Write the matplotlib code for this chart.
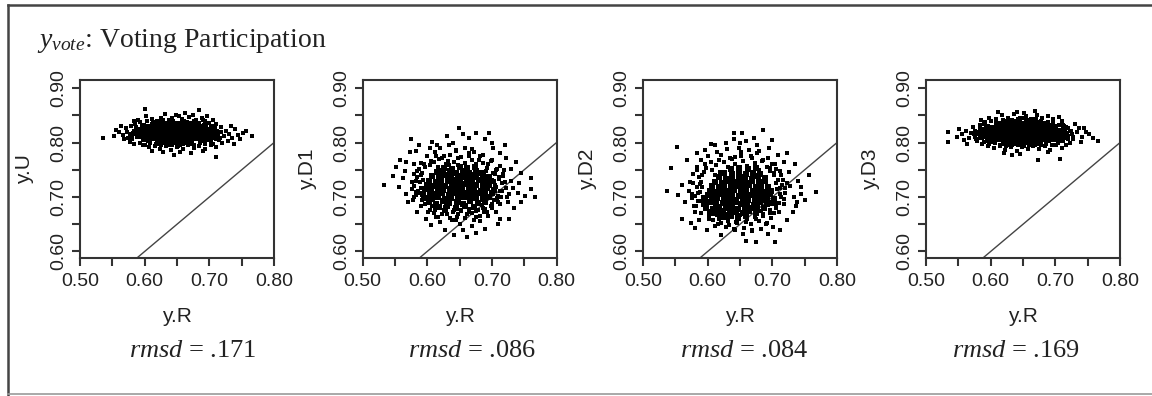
import matplotlib
matplotlib.use("Agg")
import matplotlib.pyplot as plt
from matplotlib.lines import Line2D
from matplotlib.ticker import MultipleLocator
import numpy as np

# Points, in thousandths: (y.R, y.panel).
# "core" = the solid dark middle of each cloud, "spread" = the loose points around it.
u_core = [
    (620, 799), (628, 802), (636, 798), (645, 801), (653, 797), (661, 802), (670, 799),
    (599, 806), (607, 804), (615, 808), (623, 805), (631, 807), (640, 805), (648, 808), (656, 804),
    (664, 807), (672, 805), (681, 808), (689, 805), (697, 807),
    (590, 812), (598, 814), (606, 811), (614, 813), (622, 810), (630, 813), (638, 811), (646, 814),
    (654, 811), (662, 813), (670, 810), (678, 813), (686, 811), (694, 814), (703, 811),
    (586, 818), (594, 816), (602, 819), (610, 817), (618, 820), (626, 817), (634, 819), (642, 816),
    (650, 819), (658, 817), (666, 820), (674, 817), (682, 819), (690, 816), (698, 819), (706, 817),
    (589, 824), (597, 822), (605, 825), (613, 823), (621, 826), (629, 823), (637, 825), (645, 822),
    (653, 825), (661, 823), (669, 826), (677, 823), (685, 825), (693, 822), (701, 824),
    (598, 830), (606, 828), (614, 831), (622, 829), (630, 832), (638, 829), (646, 831), (654, 828),
    (662, 831), (670, 829), (678, 832), (686, 829), (694, 831),
    (615, 836), (624, 838), (633, 835), (642, 837), (651, 835), (660, 838), (669, 835), (678, 837),
]
u_spread = [
    (602, 848), (612, 843), (625, 846), (637, 842), (648, 851), (657, 844), (668, 847), (679, 842),
    (688, 845), (697, 849), (706, 841), (590, 841), (583, 839), (631, 853), (662, 855), (675, 850),
    (619, 839), (642, 845), (694, 840), (600, 861), (684, 859), (653, 848),
    (598, 795), (607, 791), (616, 794), (624, 788), (633, 793), (641, 786), (650, 792), (659, 789),
    (667, 795), (676, 790), (684, 794), (693, 788), (703, 796), (711, 791), (612, 785), (629, 782),
    (655, 783), (672, 781), (690, 784), (710, 774), (584, 797), (646, 778), (638, 795),
    (535, 808), (553, 812), (560, 820), (566, 814), (571, 826), (575, 808), (579, 830), (582, 818),
    (568, 806), (556, 824), (577, 801), (585, 834), (563, 831), (572, 819),
    (708, 826), (713, 818), (718, 829), (722, 812), (726, 822), (731, 816), (735, 808), (740, 825),
    (744, 814), (752, 818), (766, 812), (715, 805), (710, 834), (729, 803), (738, 797), (748, 807),
    (720, 799), (733, 831), (757, 822), (703, 802),
    (593, 799), (601, 796), (609, 800), (617, 797), (626, 795), (634, 799), (643, 796), (651, 794),
    (660, 797), (668, 800), (677, 796), (685, 799), (694, 797), (702, 800), (710, 806), (705, 798),
    (593, 838), (603, 840), (611, 835), (628, 841), (639, 839), (657, 841), (666, 838), (684, 836),
    (690, 842), (699, 836), (703, 831), (580, 811), (583, 822), (578, 815), (587, 828), (581, 806),
    (710, 812), (712, 822), (714, 816), (709, 829), (718, 820), (704, 830), (716, 808),
]

d1_core = [
    (618, 681), (631, 684), (645, 680), (658, 683), (672, 681),
    (603, 690), (613, 688), (624, 692), (634, 689), (646, 691), (656, 688), (667, 692), (678, 689),
    (690, 691),
    (598, 698), (608, 696), (617, 700), (627, 697), (637, 699), (648, 696), (657, 700), (666, 697),
    (676, 699), (686, 697), (696, 700),
    (594, 706), (604, 708), (614, 705), (623, 707), (633, 704), (643, 708), (652, 705), (661, 707),
    (671, 704), (680, 708), (690, 705), (700, 707),
    (596, 714), (606, 712), (616, 716), (625, 713), (635, 715), (645, 712), (654, 716), (664, 713),
    (673, 715), (683, 712), (693, 716), (703, 713),
    (599, 722), (609, 720), (619, 724), (628, 721), (638, 723), (648, 720), (657, 724), (667, 721),
    (676, 723), (686, 720), (696, 723),
    (603, 730), (613, 728), (622, 732), (632, 729), (642, 731), (651, 728), (661, 732), (670, 729),
    (680, 731), (690, 728), (699, 730),
    (608, 738), (618, 736), (628, 740), (637, 737), (647, 739), (657, 736), (666, 740), (676, 737),
    (686, 739), (695, 736),
    (615, 746), (625, 744), (635, 748), (645, 745), (655, 747), (665, 744), (675, 748), (685, 745),
    (626, 754), (638, 752), (650, 756), (662, 753), (674, 755),
]
d1_spread = [
    (534, 722), (766, 700), (649, 827), (575, 806), (661, 626), (676, 634), (709, 650), (558, 768),
    (552, 755), (745, 745), (740, 708), (752, 702), (725, 690), (732, 716), (713, 660), (690, 642),
    (628, 640), (606, 648), (584, 672), (571, 690), (563, 735), (556, 718), (598, 660), (620, 790),
    (640, 800), (664, 808), (689, 806), (702, 790), (712, 780), (574, 782), (588, 796), (608, 802),
    (630, 812), (676, 818), (695, 818), (722, 772), (738, 765), (729, 730), (718, 742), (745, 690),
    (760, 715), (707, 673), (694, 665), (682, 656), (670, 647), (650, 650), (638, 658), (617, 663),
    (602, 672), (590, 684), (580, 700), (577, 715), (582, 730), (585, 748), (590, 762), (600, 775),
    (612, 782), (626, 776), (644, 784), (658, 790), (672, 782), (686, 778), (700, 768), (712, 757),
    (720, 728), (716, 712), (724, 700), (710, 690), (700, 680), (688, 672), (676, 664), (662, 668),
    (646, 664), (630, 668), (612, 676), (596, 688), (588, 708), (591, 740), (597, 756), (606, 766),
    (618, 770), (632, 766), (648, 772), (664, 776), (680, 768), (694, 760), (706, 750), (711, 736),
    (705, 722), (708, 698), (701, 688), (690, 678), (678, 676), (665, 672), (652, 674), (640, 672),
    (626, 676), (610, 684), (566, 748), (580, 760), (547, 738), (742, 725), (735, 680), (727, 660),
    (656, 640), (641, 630), (620, 654), (594, 700), (568, 705), (760, 735), (730, 752), (700, 800),
    (615, 796), (582, 784), (568, 764), (720, 795), (655, 815), (633, 795), (604, 790),
    (604, 676), (611, 671), (617, 679), (623, 668), (629, 675), (636, 662), (641, 677), (648, 669),
    (653, 676), (659, 661), (664, 678), (670, 670), (676, 675), (681, 666), (687, 680), (693, 672),
    (699, 684), (614, 664), (644, 657), (672, 658), (628, 682), (657, 684), (685, 686), (608, 684),
    (604, 758), (611, 764), (617, 756), (623, 771), (629, 761), (636, 778), (641, 765), (648, 759),
    (653, 773), (659, 763), (664, 781), (670, 768), (676, 760), (681, 775), (687, 762), (693, 754),
    (699, 766), (613, 776), (645, 786), (669, 789), (634, 758), (691, 748), (620, 750), (702, 744),
    (578, 694), (583, 703), (586, 712), (580, 720), (589, 727), (584, 736), (592, 744), (587, 751),
    (579, 742), (592, 695), (590, 716), (576, 728), (595, 760), (582, 710), (594, 732),
    (704, 694), (709, 702), (713, 711), (707, 719), (716, 725), (711, 734), (705, 742), (719, 749),
    (714, 700), (722, 716), (703, 730), (718, 738), (708, 752), (726, 705), (712, 687),
]

d2_core = [
    (622, 663), (634, 666), (647, 662), (659, 665),
    (604, 672), (614, 670), (624, 674), (634, 671), (644, 673), (654, 670), (664, 674), (675, 671),
    (598, 680), (608, 678), (618, 682), (628, 679), (638, 681), (647, 678), (657, 682), (667, 679),
    (677, 681), (687, 679),
    (594, 688), (604, 690), (613, 687), (623, 689), (633, 686), (642, 690), (652, 687), (661, 689),
    (671, 686), (681, 690), (691, 687), (700, 689),
    (596, 696), (606, 694), (615, 698), (625, 695), (635, 697), (644, 694), (654, 698), (663, 695),
    (673, 697), (682, 694), (692, 698), (702, 695),
    (600, 704), (609, 702), (619, 706), (628, 703), (638, 705), (648, 702), (657, 706), (667, 703),
    (676, 705), (686, 702), (696, 706),
    (603, 712), (613, 710), (622, 714), (632, 711), (641, 713), (651, 710), (660, 714), (670, 711),
    (679, 713), (689, 710), (698, 712),
    (607, 720), (617, 718), (626, 722), (636, 719), (645, 721), (655, 718), (664, 722), (674, 719),
    (683, 721), (693, 718),
    (612, 728), (622, 726), (631, 730), (641, 727), (650, 729), (660, 726), (669, 730), (679, 727),
    (689, 729),
    (618, 736), (628, 734), (638, 738), (648, 735), (658, 737), (668, 734), (678, 738), (688, 735),
    (626, 744), (637, 742), (648, 746), (659, 743), (670, 745), (681, 742),
    (636, 752), (649, 754), (662, 751), (675, 753),
]
d2_spread = [
    (537, 711), (767, 709), (686, 823), (653, 818), (553, 792), (704, 617), (675, 617), (580, 643),
    (750, 694), (544, 753), (554, 704), (574, 652), (722, 658), (712, 639), (732, 672), (737, 683),
    (596, 786), (612, 795), (628, 800), (641, 806), (660, 803), (672, 808), (695, 790), (708, 778),
    (718, 764), (726, 746), (740, 730), (745, 718), (733, 700), (718, 688), (710, 672), (698, 662),
    (690, 650), (682, 642), (668, 638), (655, 633), (642, 640), (628, 645), (616, 650), (602, 660),
    (590, 670), (582, 684), (576, 698), (571, 712), (573, 727), (578, 742), (584, 756), (590, 768),
    (600, 776), (614, 782), (630, 788), (648, 790), (664, 786), (680, 784), (694, 772), (704, 760),
    (712, 748), (716, 732), (712, 716), (714, 700), (706, 686), (696, 676), (686, 668), (674, 660),
    (660, 654), (646, 652), (632, 656), (618, 660), (606, 668), (596, 678), (588, 692), (585, 708),
    (588, 724), (592, 740), (597, 754), (605, 764), (618, 768), (634, 772), (652, 776), (668, 772),
    (684, 766), (697, 754), (703, 740), (706, 726), (565, 690), (560, 722), (568, 768), (583, 780),
    (640, 818), (700, 805), (722, 780), (735, 760), (756, 740), (720, 708), (727, 720), (693, 632),
    (660, 620), (620, 630), (599, 640), (560, 660), (586, 658), (650, 800), (676, 796), (605, 798),
    (576, 706), (592, 718), (701, 645), (744, 705), (738, 690),
    (602, 664), (609, 658), (615, 667), (621, 652), (627, 661), (633, 648), (638, 663), (644, 655),
    (650, 667), (656, 644), (661, 659), (667, 650), (673, 663), (679, 656), (685, 666), (691, 652),
    (697, 670), (612, 646), (640, 642), (668, 640), (630, 668), (683, 674), (607, 676),
    (606, 750), (613, 758), (619, 746), (625, 764), (631, 755), (637, 770), (643, 760), (649, 748),
    (655, 766), (661, 757), (667, 775), (673, 762), (679, 750), (685, 768), (691, 756), (697, 747),
    (621, 778), (652, 782), (676, 780), (642, 774), (700, 760), (612, 740),
    (579, 683), (585, 692), (581, 701), (588, 710), (583, 719), (590, 728), (586, 737), (594, 746),
    (578, 726), (593, 700), (584, 750), (596, 760), (580, 672), (597, 684),
    (705, 680), (710, 689), (704, 698), (712, 706), (707, 715), (715, 723), (709, 731), (702, 744),
    (718, 697), (720, 716), (706, 752), (713, 740), (703, 670), (723, 726),
]

d3_core = [
    (622, 799), (631, 797), (640, 800), (649, 798), (658, 801), (667, 797), (676, 800),
    (596, 805), (604, 803), (612, 806), (621, 804), (629, 807), (637, 804), (646, 806), (654, 803),
    (662, 806), (671, 804), (679, 807), (688, 804), (696, 806), (705, 804),
    (585, 811), (593, 813), (601, 810), (609, 812), (617, 809), (625, 812), (633, 810), (641, 813),
    (649, 810), (657, 812), (665, 809), (673, 812), (681, 810), (689, 813), (697, 810), (706, 812),
    (713, 810),
    (582, 817), (590, 815), (598, 818), (606, 816), (614, 819), (622, 816), (630, 818), (638, 815),
    (646, 818), (654, 816), (662, 819), (670, 816), (678, 818), (686, 815), (694, 818), (702, 816),
    (710, 819), (717, 816),
    (586, 823), (594, 821), (602, 824), (610, 822), (618, 825), (626, 822), (634, 824), (642, 821),
    (650, 824), (658, 822), (666, 825), (674, 822), (682, 824), (690, 821), (698, 824), (706, 822),
    (713, 824),
    (595, 829), (603, 827), (611, 830), (619, 828), (627, 831), (635, 828), (643, 830), (651, 827),
    (659, 830), (667, 828), (675, 831), (683, 828), (691, 830), (699, 828),
    (612, 835), (621, 837), (630, 834), (639, 836), (648, 834), (657, 837), (666, 835), (675, 836),
    (684, 834),
    (632, 840), (644, 842), (656, 840), (668, 841),
]
d3_spread = [
    (598, 846), (609, 843), (618, 850), (627, 845), (636, 852), (645, 846), (654, 849), (662, 844),
    (671, 851), (680, 845), (689, 848), (697, 843), (611, 856), (640, 857), (668, 858), (705, 847),
    (585, 842), (592, 838), (710, 839), (652, 855), (626, 840),
    (596, 794), (605, 790), (614, 793), (622, 787), (631, 792), (640, 785), (649, 791), (658, 788),
    (666, 794), (675, 789), (684, 793), (692, 787), (701, 795), (710, 790), (620, 781), (645, 779),
    (673, 768), (707, 770), (688, 782), (633, 777), (716, 796), (587, 798),
    (534, 801), (534, 819), (548, 810), (556, 815), (562, 822), (567, 808), (572, 828), (576, 813),
    (579, 803), (583, 832), (569, 818), (558, 805), (551, 825), (575, 822), (563, 797),
    (716, 828), (720, 813), (724, 822), (728, 806), (733, 819), (737, 827), (742, 811), (747, 820),
    (752, 815), (766, 803), (758, 809), (722, 800), (739, 801), (731, 834), (712, 833), (744, 826),
    (590, 801), (598, 798), (607, 800), (615, 796), (624, 794), (633, 798), (642, 795), (651, 793),
    (660, 796), (669, 799), (678, 795), (686, 798), (695, 796), (704, 799), (712, 803), (720, 806),
    (590, 834), (600, 839), (608, 836), (619, 841), (637, 839), (650, 845), (661, 839), (678, 840),
    (688, 838), (697, 836), (706, 832), (576, 810), (579, 820), (574, 816), (583, 827), (578, 806),
    (720, 812), (722, 821), (719, 826), (725, 816), (713, 830), (728, 811),
]

y_names = ["y.U", "y.D1", "y.D2", "y.D3"]
rmsd_values = [".171", ".086", ".084", ".169"]
cores = [u_core, d1_core, d2_core, d3_core]
spreads = [u_spread, d1_spread, d2_spread, d3_spread]

x_ticks = [0.50, 0.60, 0.70, 0.80]
y_ticks = [0.60, 0.70, 0.80, 0.90]

plt.rcParams["mathtext.fontset"] = "custom"
plt.rcParams["mathtext.rm"] = "Liberation Serif"
plt.rcParams["mathtext.it"] = "Liberation Serif:italic"

W, H = 1152, 396
fig = plt.figure(figsize=(W / 100, H / 100), dpi=100)

ink = "#222222"
box_lefts = [80, 362.5, 643, 926]
rmsd_x = [193, 472, 744, 1016]
core_size = [13, 18, 18, 13]

for i in range(4):
    ax = fig.add_axes([box_lefts[i] / W, 1 - 258 / H, 194 / W, 178 / H])
    sx, sy = zip(*spreads[i])
    cx, cy = zip(*cores[i])
    ax.axline((0, 0), slope=1, color="#444444", lw=1.0, zorder=1)
    ax.scatter(np.array(sx) / 1000, np.array(sy) / 1000, s=5, marker="s",
               c="black", linewidths=0, zorder=2)
    ax.scatter(np.array(cx) / 1000, np.array(cy) / 1000, s=core_size[i], marker="s",
               c="black", linewidths=0, zorder=3)

    ax.set_xlim(0.50, 0.80)
    ax.set_ylim(0.588, 0.915)
    ax.set_xticks(x_ticks)
    ax.set_yticks(y_ticks)
    ax.set_xticklabels([f"{t:.2f}" for t in x_ticks])
    ax.set_yticklabels([f"{t:.2f}" for t in y_ticks])
    ax.xaxis.set_minor_locator(MultipleLocator(0.05))
    ax.yaxis.set_minor_locator(MultipleLocator(0.05))
    ax.tick_params(which="both", direction="out", length=6, width=1.5, color="#333333")
    ax.tick_params(which="major", labelsize=14, labelcolor=ink)
    ax.tick_params(axis="x", pad=5)
    ax.tick_params(axis="y", labelrotation=90, pad=3)
    for lab in ax.get_xticklabels() + ax.get_yticklabels():
        lab.set_family("Liberation Sans")
    for lab in ax.get_yticklabels():
        lab.set_va("center")
    for sp in ax.spines.values():
        sp.set_color("#333333")
        sp.set_linewidth(1.5)

    ax.set_xlabel("y.R", family="Liberation Sans", fontsize=15, color=ink)
    ax.set_ylabel(y_names[i], family="Liberation Sans", fontsize=15, color=ink)
    ax.xaxis.set_label_coords(0.5, -0.33)
    ax.xaxis.label.set_va("center")
    ax.yaxis.set_label_coords(-0.285, 0.5)
    ax.yaxis.label.set_va("center")

    fig.text(rmsd_x[i] / W, 1 - 351 / H, f"$rmsd$ = {rmsd_values[i]}",
             family="Liberation Serif", fontsize=19, color=ink, ha="center", va="center")

fig.text(37 / W, 1 - 47 / H, r"$y_{vote}$: Voting Participation",
         family="Liberation Serif", fontsize=20, color=ink, va="baseline")

# page frame around the figure
fig.add_artist(Line2D([8 / W, 8 / W], [0, 1 - 5 / H], transform=fig.transFigure,
                      color="#444444", lw=1.8))
fig.add_artist(Line2D([8 / W, 1], [1 - 5 / H, 1 - 5 / H], transform=fig.transFigure,
                      color="#444444", lw=1.8))
fig.add_artist(Line2D([8 / W, 1], [1 - 394 / H, 1 - 394 / H], transform=fig.transFigure,
                      color="#999999", lw=1.2))

fig.savefig("out.png", dpi=100)
